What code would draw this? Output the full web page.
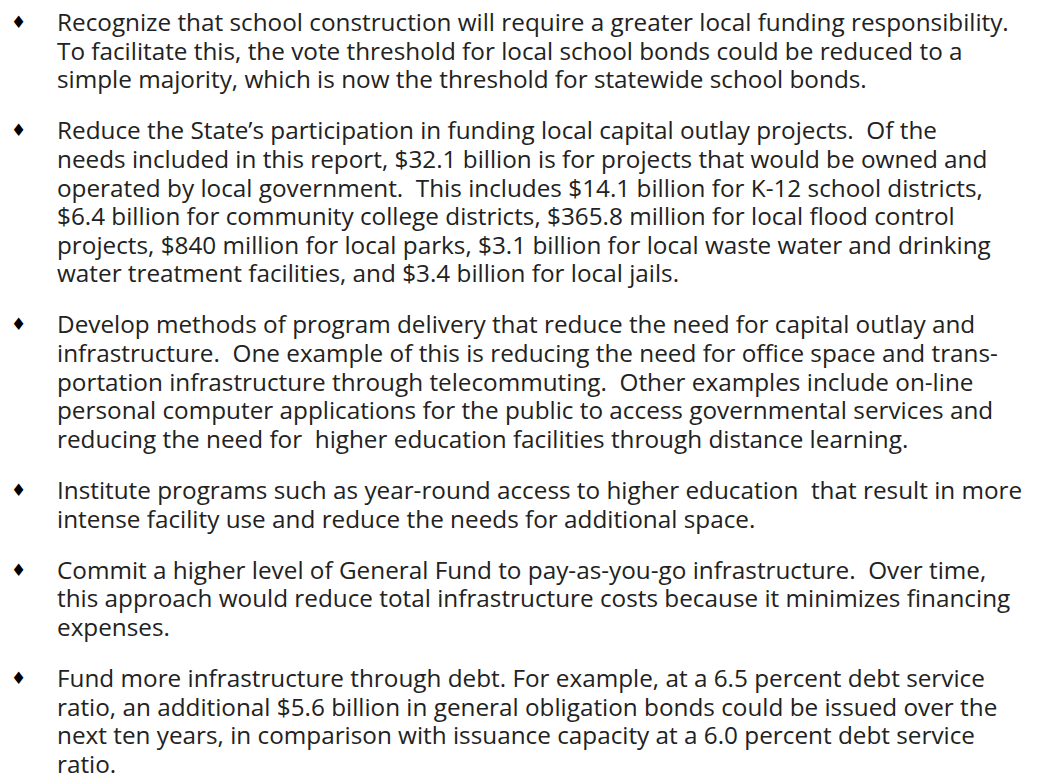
<!DOCTYPE html>
<html>
<head>
<meta charset="utf-8">
<script src="https://cdn.jsdelivr.net/npm/chart.js@4"></script>
<style>
  html, body { margin: 0; padding: 0; background: #fff; }
  body { width: 1046px; height: 782px; position: relative; overflow: hidden; }
  #page { position: absolute; left: 0; top: 0; width: 1046px; height: 782px; font-family: "Open Sans", sans-serif; color: #222; }
  .line { position: absolute; left: 57px; white-space: pre; }
  .bullet { position: absolute; left: 11px; font-family: "DejaVu Sans", sans-serif; color: #000; }
</style>
</head>
<body>
<div id="page"></div>
<script>
// bullet paragraphs, one array per bullet, kept with their original line breaks
const para1 = [
  "Recognize that school construction will require a greater local funding responsibility.",
  "To facilitate this, the vote threshold for local school bonds could be reduced to a",
  "simple majority, which is now the threshold for statewide school bonds."
];
const para2 = [
  "Reduce the State\u2019s participation in funding local capital outlay projects.  Of the",
  "needs included in this report, $32.1 billion is for projects that would be owned and",
  "operated by local government.  This includes $14.1 billion for K-12 school districts,",
  "$6.4 billion for community college districts, $365.8 million for local flood control",
  "projects, $840 million for local parks, $3.1 billion for local waste water and drinking",
  "water treatment facilities, and $3.4 billion for local jails."
];
const para3 = [
  "Develop methods of program delivery that reduce the need for capital outlay and",
  "infrastructure.  One example of this is reducing the need for office space and trans-",
  "portation infrastructure through telecommuting.  Other examples include on-line",
  "personal computer applications for the public to access governmental services and",
  "reducing the need for  higher education facilities through distance learning."
];
const para4 = [
  "Institute programs such as year-round access to higher education  that result in more",
  "intense facility use and reduce the needs for additional space."
];
const para5 = [
  "Commit a higher level of General Fund to pay-as-you-go infrastructure.  Over time,",
  "this approach would reduce total infrastructure costs because it minimizes financing",
  "expenses."
];
const para6 = [
  "Fund more infrastructure through debt. For example, at a 6.5 percent debt service",
  "ratio, an additional $5.6 billion in general obligation bonds could be issued over the",
  "next ten years, in comparison with issuance capacity at a 6.0 percent debt service",
  "ratio."
];

const paragraphs = [para1, para2, para3, para4, para5, para6];

const page = document.getElementById("page");
const firstCenter = 22;   // middle of first text line
const lineStep = 28.6;    // line pitch
const paraGap = 22.5;     // extra space between bullets
const fontSize = 24.3;

let lineNo = 0;
paragraphs.forEach((lines, p) => {
  lines.forEach((text, i) => {
    const center = firstCenter + lineNo * lineStep + p * paraGap;
    if (i === 0) {
      const b = document.createElement("div");
      b.className = "bullet";
      b.textContent = "\u2666";
      b.style.fontSize = "17px";
      b.style.lineHeight = "20px";
      b.style.top = (center - 10) + "px";
      page.appendChild(b);
    }
    const d = document.createElement("div");
    d.className = "line";
    d.textContent = text;
    d.style.fontSize = fontSize + "px";
    d.style.lineHeight = "26px";
    d.style.top = (center - 13) + "px";
    page.appendChild(d);
    lineNo++;
  });
});
</script>
</body>
</html>
